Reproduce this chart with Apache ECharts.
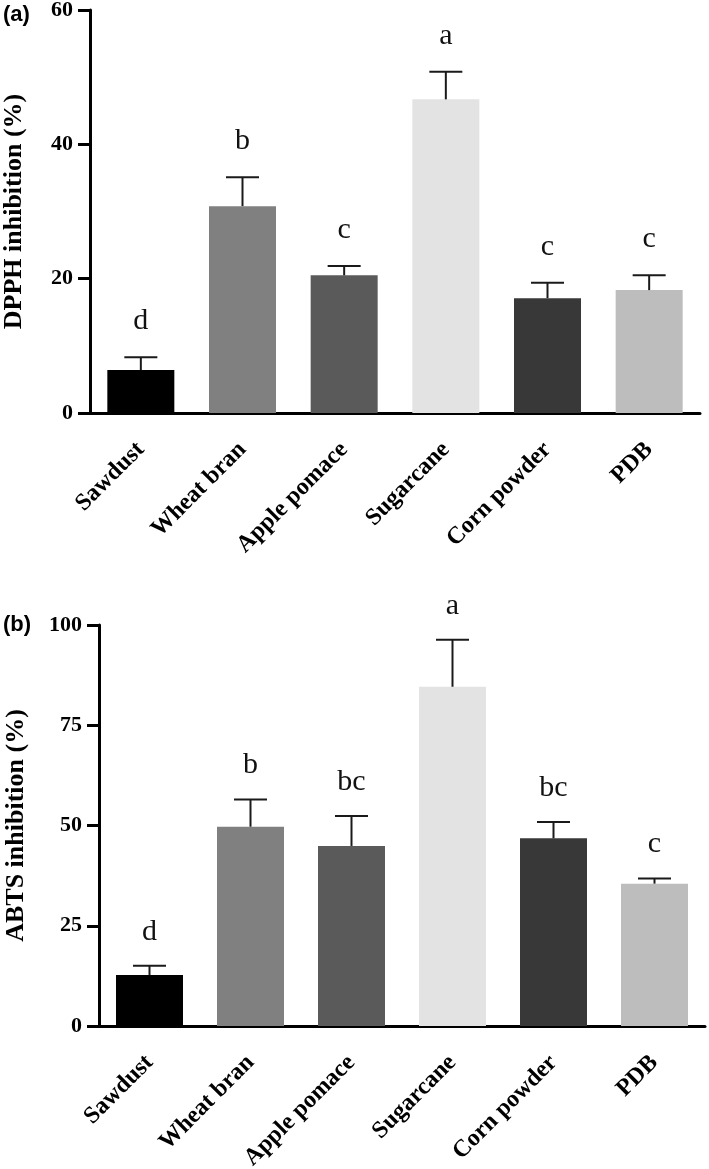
<!DOCTYPE html>
<html>
<head>
<meta charset="utf-8">
<script src="https://cdn.jsdelivr.net/npm/echarts@6/dist/echarts.min.js"></script>
<style>
  html, body { margin: 0; padding: 0; background: #fff; }
  #chart { width: 709px; height: 1169px; }
</style>
</head>
<body>
<div id="chart"></div>
<script>
// substrates, same order in both panels
const substrates = ['Sawdust', 'Wheat bran', 'Apple pomace', 'Sugarcane', 'Corn powder', 'PDB']
const barColors = ['#000000', '#808080', '#5a5a5a', '#e3e3e3', '#383838', '#bdbdbd']

// (a) DPPH
const dpphMean = [6.4, 30.8, 20.5, 46.7, 17.1, 18.3]
const dpphSd = [1.9, 4.3, 1.4, 4.1, 2.3, 2.2]
const dpphLetters = ['d', 'b', 'c', 'a', 'c', 'c']
const dpphTicks = { min: 0, max: 60, interval: 20 }

// (b) ABTS
const abtsMean = [12.7, 49.7, 44.9, 84.6, 46.8, 35.5]
const abtsSd = [2.3, 6.8, 7.5, 11.7, 4.1, 1.3]
const abtsLetters = ['d', 'b', 'bc', 'a', 'bc', 'c']
const abtsTicks = { min: 0, max: 100, interval: 25 }

const serif = '"Liberation Serif", "DejaVu Serif", serif'

const errData = (mean, sd) => mean.map((m, i) => [i, m, m + sd[i]])

const errorBars = (letters, gap) => (params, api) => {
  const i = api.value(0)
  const base = api.coord([i, api.value(1)])
  const top = api.coord([i, api.value(2)])
  const half = 16.5
  const line = { stroke: '#1a1a1a', lineWidth: 2 }
  return {
    type: 'group',
    children: [
      { type: 'line', shape: { x1: base[0], y1: base[1], x2: top[0], y2: top[1] }, style: line },
      { type: 'line', shape: { x1: top[0] - half, y1: top[1], x2: top[0] + half, y2: top[1] }, style: line },
      {
        type: 'text', x: top[0], y: top[1] - gap,
        style: {
          text: letters[i], fontFamily: serif, fontSize: 30, fill: '#111',
          align: 'center', verticalAlign: 'bottom'
        }
      }
    ]
  }
}

const xAxisFor = (gridIndex) => ({
  type: 'category',
  gridIndex,
  data: substrates,
  axisLine: { lineStyle: { color: '#000', width: 3 } },
  axisTick: { alignWithLabel: true, length: 11, lineStyle: { color: '#000', width: 3 } },
  axisLabel: {
    interval: 0, rotate: 45, margin: 33, color: '#000',
    fontFamily: serif, fontWeight: 'bold', fontSize: 24
  }
})

const yAxisFor = (gridIndex, ticks, name, nameGap) => ({
  type: 'value',
  gridIndex,
  min: ticks.min,
  max: ticks.max,
  interval: ticks.interval,
  name,
  nameLocation: 'middle',
  nameGap,
  nameTextStyle: { fontFamily: serif, fontWeight: 'bold', fontSize: 26, color: '#000' },
  splitLine: { show: false },
  axisLine: { show: true, lineStyle: { color: '#000', width: 3 } },
  axisTick: { show: true, length: 12, lineStyle: { color: '#000', width: 3 } },
  axisLabel: { margin: 17, color: '#000', fontFamily: serif, fontWeight: 'bold', fontSize: 22 }
})

const barSeries = (idx, mean) => ({
  type: 'bar',
  xAxisIndex: idx,
  yAxisIndex: idx,
  barWidth: 67,
  data: mean.map((v, i) => ({ value: v, itemStyle: { color: barColors[i] } })),
  z: 2
})

const chart = echarts.init(document.getElementById('chart'))
chart.setOption({
  animation: false,
  backgroundColor: '#fff',
  grid: [
    { left: 90, top: 10, width: 610, height: 403, outerBoundsMode: 'none', containLabel: false },
    { left: 99, top: 625, width: 606, height: 401, outerBoundsMode: 'none', containLabel: false }
  ],
  graphic: [
    { type: 'text', left: 3, top: 4, style: { text: '(a)', fontFamily: '"Liberation Sans", Arial, sans-serif', fontWeight: 'bold', fontSize: 22, fill: '#000' } },
    { type: 'text', left: 3, top: 614, style: { text: '(b)', fontFamily: '"Liberation Sans", Arial, sans-serif', fontWeight: 'bold', fontSize: 22, fill: '#000' } }
  ],
  xAxis: [xAxisFor(0), xAxisFor(1)],
  yAxis: [
    yAxisFor(0, dpphTicks, 'DPPH inhibition (%)', 63),
    yAxisFor(1, abtsTicks, 'ABTS inhibition (%)', 70)
  ],
  series: [
    barSeries(0, dpphMean),
    {
      type: 'custom', xAxisIndex: 0, yAxisIndex: 0, z: 3,
      renderItem: errorBars(dpphLetters, 21),
      data: errData(dpphMean, dpphSd)
    },
    barSeries(1, abtsMean),
    {
      type: 'custom', xAxisIndex: 1, yAxisIndex: 1, z: 3,
      renderItem: errorBars(abtsLetters, 19),
      data: errData(abtsMean, abtsSd)
    }
  ]
})
</script>
</body>
</html>
